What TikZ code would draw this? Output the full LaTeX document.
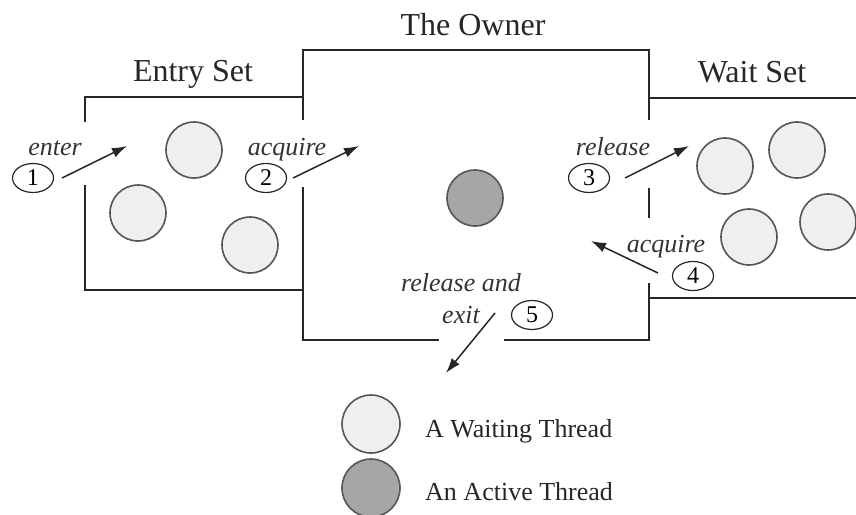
\documentclass[tikz,border=0pt]{standalone}
\usepackage{fontspec}
\setmainfont{Liberation Serif}
\usetikzlibrary{shapes.geometric,arrows.meta}
\definecolor{wallc}{HTML}{262626}
\definecolor{ringc}{HTML}{555555}
\definecolor{waitfill}{HTML}{EFEFEF}
\definecolor{activefill}{HTML}{A6A6A6}
\tikzset{
  wall/.style={line width=2.6pt, draw=wallc, line cap=butt, line join=miter},
  waitthread/.style={circle, draw=ringc, line width=1.6pt, fill=waitfill, minimum size=56pt, inner sep=0pt},
  activethread/.style={circle, draw=ringc, line width=1.6pt, fill=activefill, minimum size=56pt, inner sep=0pt},
  title/.style={font=\fontsize{32}{36}\selectfont, anchor=base, inner sep=0pt, text=black!85},
  lbl/.style={font=\fontsize{26}{30}\selectfont\itshape, anchor=base, inner sep=0pt, text=black!80},
  legtext/.style={font=\fontsize{26}{30}\selectfont, anchor=base west, inner sep=0pt, text=black!85},
  numel/.style={ellipse, draw=black!85, line width=1.2pt, minimum width=41pt, minimum height=29pt, inner sep=0pt, font=\fontsize{24}{26}\selectfont},
  flow/.style={line width=1.5pt, draw=black!85, -{Latex[length=15pt,width=10pt]}}
}
\begin{document}
\begin{tikzpicture}[x=1pt,y=1pt]
\useasboundingbox (0,0) rectangle (856,-514);
% walls
\draw[wall] (85,-122) -- (85,-97) -- (303,-97);
\draw[wall] (85,-185) -- (85,-290) -- (303,-290);
\draw[wall] (303,-120) -- (303,-50) -- (649,-50) -- (649,-120);
\draw[wall] (303,-187) -- (303,-340) -- (439,-340);
\draw[wall] (504,-340) -- (649,-340) -- (649,-283);
\draw[wall] (649,-188) -- (649,-218);
\draw[wall] (649,-98) -- (856,-98);
\draw[wall] (649,-298) -- (856,-298);
% titles
\node[title] (tentry) at (193,-81) {Entry Set};
\node[title] (towner) at (473,-35) {The Owner};
\node[title] (twait) at (752,-82) {Wait Set};
% threads
\node[waitthread] (e1) at (194,-150) {};
\node[waitthread] (e2) at (138,-213) {};
\node[waitthread] (e3) at (250,-245) {};
\node[activethread] (own) at (475,-198) {};
\node[waitthread] (w1) at (725,-166) {};
\node[waitthread] (w2) at (797,-150) {};
\node[waitthread] (w3) at (749,-237) {};
\node[waitthread] (w4) at (828,-222) {};
% numbered ellipses
\node[numel] (n1) at (33,-178) {1};
\node[numel] (n2) at (266,-178) {2};
\node[numel] (n3) at (589,-178) {3};
\node[numel] (n4) at (693,-276) {4};
\node[numel] (n5) at (532,-315) {5};
% labels
\node[lbl] (l1) at (55,-155) {enter};
\node[lbl] (l2) at (287,-155) {acquire};
\node[lbl] (l3) at (613,-155) {release};
\node[lbl] (l4) at (666,-252) {acquire};
\node[lbl] (l5) at (461,-291) {release and};
\node[lbl] (l5b) at (461,-323) {exit};
% arrow ends
\coordinate (a1s) at (62,-178);  \coordinate (a1e) at (127,-146);
\coordinate (a2s) at (293,-178); \coordinate (a2e) at (359,-146);
\coordinate (a3s) at (625,-178); \coordinate (a3e) at (689,-146);
\coordinate (a4s) at (658,-273); \coordinate (a4e) at (591,-241);
\coordinate (a5s) at (495,-313); \coordinate (a5e) at (446,-373);
\draw[flow] (a1s) -- (a1e);
\draw[flow] (a2s) -- (a2e);
\draw[flow] (a3s) -- (a3e);
\draw[flow] (a4s) -- (a4e);
\draw[flow] (a5s) -- (a5e);
% legend
\node[waitthread, minimum size=58pt] (legw) at (371,-424) {};
\node[activethread, minimum size=58pt] (lega) at (371,-488) {};
\node[legtext] (legwt) at (425,-437) {A Waiting Thread};
\node[legtext] (legat) at (425,-500) {An Active Thread};
\end{tikzpicture}
\end{document}
